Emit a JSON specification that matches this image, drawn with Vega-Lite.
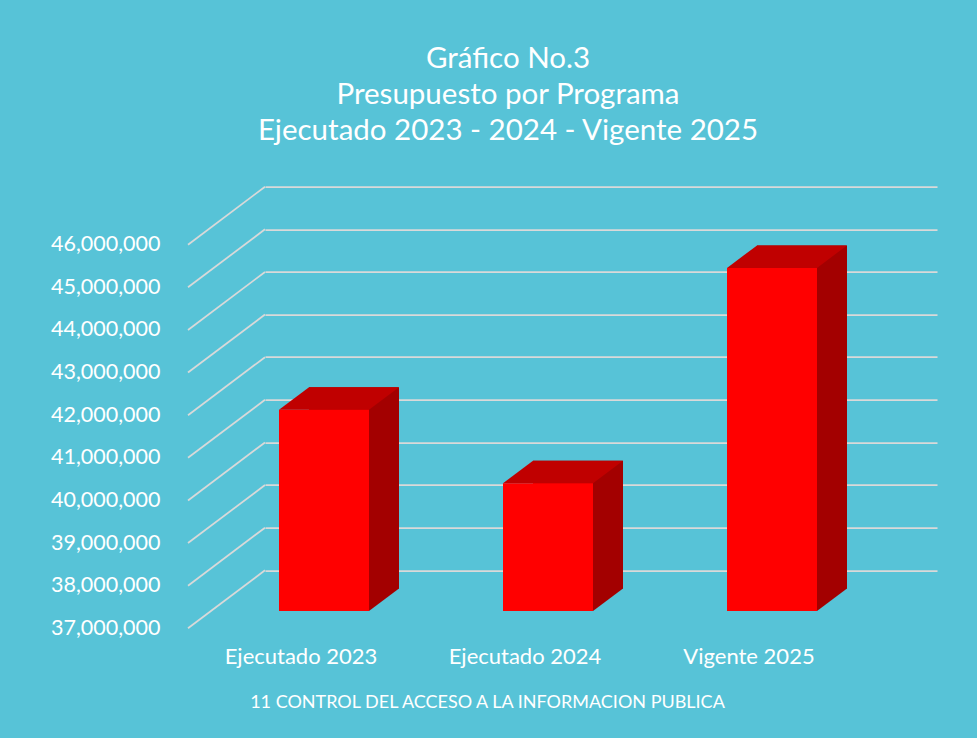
{
  "$schema": "https://vega.github.io/schema/vega-lite/v6.json",
  "width": 672,
  "height": 383.6,
  "autosize": {"type": "none"},
  "padding": {"left": 265, "top": 186.7, "right": 40, "bottom": 167.7},
  "background": "#57C3D7",
  "datasets": {
    "budget": [
      {"categoria": "Ejecutado 2023", "monto": 41720000},
      {"categoria": "Ejecutado 2024", "monto": 40000000},
      {"categoria": "Vigente 2025", "monto": 45050000}
    ],
    "grid": [
      {"nivel": 37000000}, {"nivel": 38000000}, {"nivel": 39000000}, {"nivel": 40000000},
      {"nivel": 41000000}, {"nivel": 42000000}, {"nivel": 43000000}, {"nivel": 44000000},
      {"nivel": 45000000}, {"nivel": 46000000}
    ]
  },
  "title": {
    "text": ["Gráfico No.3", "Presupuesto por Programa", "Ejecutado 2023 - 2024 - Vigente 2025"],
    "anchor": "middle",
    "frame": "group",
    "dx": -93,
    "offset": 37,
    "lineHeight": 36,
    "font": "Lato",
    "fontSize": 29.5,
    "fontWeight": "normal",
    "color": "#FFFFFF"
  },
  "config": {
    "view": {"stroke": null},
    "axisY": {
      "domain": false, "ticks": false, "grid": true, "gridColor": "#D9D9D9", "gridWidth": 1.75,
      "labelColor": "#FFFFFF", "labelFont": "Lato", "labelFontSize": 21.5, "labelPadding": 105, "labelOffset": 58,
      "title": null
    },
    "axisX": {
      "domain": false, "ticks": false, "grid": false,
      "labelColor": "#FFFFFF", "labelFont": "Lato", "labelFontSize": 22, "labelPadding": 76, "labelOffset": -76, "labelAngle": 0,
      "titleColor": "#FFFFFF", "titleFont": "Lato", "titleFontSize": 18, "titleFontWeight": "normal", "titleX": 222, "titlePadding": 26
    }
  },
  "layer": [
    {
      "data": {"name": "grid"},
      "mark": {"type": "point", "shape": "M-336,0L-413,58", "size": 4, "filled": false, "stroke": "#D9D9D9", "strokeWidth": 1.75, "opacity": 1},
      "encoding": {
        "y": {"field": "nivel", "type": "quantitative", "scale": {"domain": [37000000, 46000000], "zero": false, "nice": false},
              "axis": {"values": [37000000, 38000000, 39000000, 40000000, 41000000, 42000000, 43000000, 44000000, 45000000, 46000000], "format": ",d", "title": null}}
      }
    },
    {
      "data": {"name": "budget"},
      "mark": {"type": "bar", "color": "#A30000", "width": 90, "xOffset": -23, "yOffset": 18.2, "y2Offset": 18.2},
      "encoding": {
        "x": {"field": "categoria", "type": "nominal", "sort": null, "scale": {"paddingInner": 0, "paddingOuter": 0}, "axis": {"title": "11 CONTROL DEL ACCESO A LA INFORMACION PUBLICA"}},
        "y": {"field": "monto", "type": "quantitative", "scale": {"domain": [37000000, 46000000], "zero": false, "nice": false}, "axis": {"title": null}},
        "y2": {"datum": 37000000}
      }
    },
    {
      "data": {"name": "budget"},
      "mark": {"type": "point", "shape": "M-8,15.5L-8,40.7L22,18.2L22,15.5Z", "size": 4, "filled": true, "color": "#A30000", "strokeWidth": 0, "opacity": 1},
      "encoding": {
        "x": {"field": "categoria", "type": "nominal", "sort": null, "axis": {"title": "11 CONTROL DEL ACCESO A LA INFORMACION PUBLICA"}},
        "y": {"datum": 37000000, "type": "quantitative"}
      }
    },
    {
      "data": {"name": "budget"},
      "mark": {"type": "point", "shape": "M-98,40.7L-8,40.7L22,18.2L-68,18.2Z", "size": 4, "filled": true, "color": "#C00000", "strokeWidth": 0, "opacity": 1},
      "encoding": {
        "x": {"field": "categoria", "type": "nominal", "sort": null, "axis": {"title": "11 CONTROL DEL ACCESO A LA INFORMACION PUBLICA"}},
        "y": {"field": "monto", "type": "quantitative", "axis": {"title": null}}
      }
    },
    {
      "data": {"name": "budget"},
      "mark": {"type": "bar", "color": "#FF0000", "width": 90, "xOffset": -53, "yOffset": 40.7, "y2Offset": 40.7},
      "encoding": {
        "x": {"field": "categoria", "type": "nominal", "sort": null, "axis": {"title": "11 CONTROL DEL ACCESO A LA INFORMACION PUBLICA"}},
        "y": {"field": "monto", "type": "quantitative", "axis": {"title": null}},
        "y2": {"datum": 37000000}
      }
    }
  ]
}
